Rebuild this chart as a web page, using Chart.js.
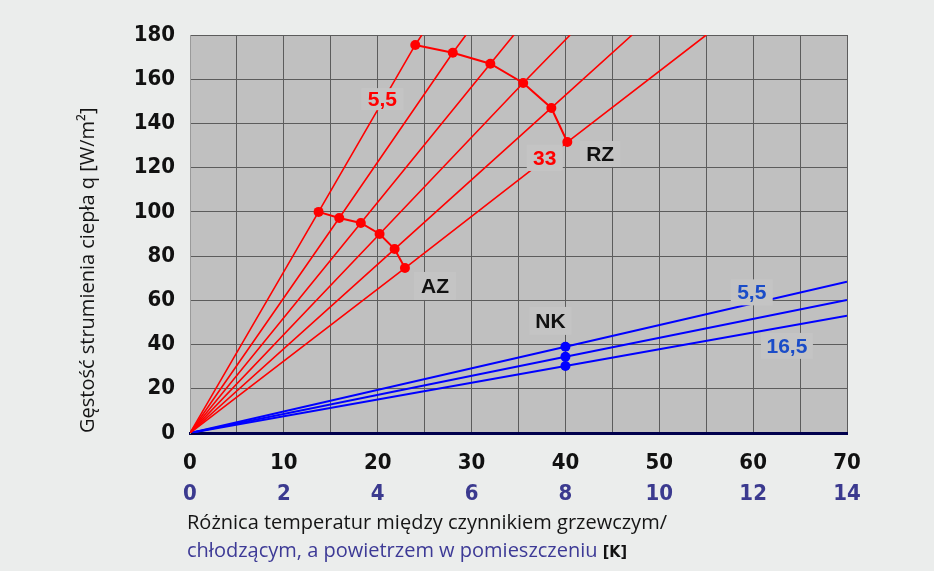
<!DOCTYPE html>
<html>
<head>
<meta charset="utf-8">
<script src="https://cdn.jsdelivr.net/npm/chart.js@4"></script>
<style>
    html, body { margin: 0; padding: 0; background: #ebedec; }
    #wrap { width: 934px; height: 571px; position: relative; }
</style>
</head>
<body>
<div id="wrap"><canvas id="chart" width="934" height="571"></canvas></div>
<script>
// red lines: x where each line leaves the top edge (q = 180)
const redTopX = [24.7, 29.4, 34.5, 40.5, 47.1, 55.0];
// AZ points (lower red polyline)
const azX = [13.7, 15.9, 18.2, 20.2, 21.8, 22.9];
const azY = [100.0, 97.2, 95.0, 90.0, 83.2, 74.6];
// RZ points (upper red polyline)
const rzX = [24.0, 28.0, 32.0, 35.5, 38.5, 40.2];
const rzY = [175.5, 172.0, 167.0, 158.3, 147.0, 131.6];
// blue lines (NK), value at 40 K and at the right edge (70 K)
const nkX = 40;
const nkY = [39.0, 34.5, 30.3];
const blueEndX = 70;
const blueEndY = [68.4, 60.2, 53.0];

// tick labels
const xLabels = [0, 10, 20, 30, 40, 50, 60, 70];
const x2Labels = [0, 2, 4, 6, 8, 10, 12, 14];
const yLabels = [0, 20, 40, 60, 80, 100, 120, 140, 160, 180];

const RED = '#ff0000';
const BLUE = '#0000ff';
const tickFont = { family: '"Liberation Sans Narrow", "DejaVu Sans Condensed", sans-serif', size: 22, weight: 'bold' };

// notes drawn on the plot (data coords)
const notes = [
    { text: '5,5', x: 20.5, y: 151, color: RED, w: 42, h: 22 },
    { text: '33', x: 37.8, y: 124.4, color: RED, w: 36, h: 26 },
    { text: 'RZ', x: 43.7, y: 126.2, color: '#111', w: 40, h: 26 },
    { text: 'AZ', x: 26.1, y: 66.5, color: '#111', w: 42, h: 28 },
    { text: 'NK', x: 38.4, y: 50.7, color: '#111', w: 42, h: 28 },
    { text: '5,5', x: 59.85, y: 63.6, color: '#1a4cc8', w: 42, h: 26 },
    { text: '16,5', x: 63.6, y: 39.4, color: '#1a4cc8', w: 52, h: 26 }
];

const datasets = [];

redTopX.forEach((tx, i) => {
    datasets.push({
        data: [{ x: 0, y: 0 }, { x: azX[i], y: azY[i] }, { x: rzX[i], y: rzY[i] }, { x: tx, y: 180 }],
        borderColor: RED,
        borderWidth: 1.6,
        pointRadius: 0
    });
});

datasets.push({
    data: azX.map((x, i) => ({ x, y: azY[i] })),
    borderColor: RED,
    borderWidth: 2,
    pointRadius: 5,
    pointBackgroundColor: RED,
    pointBorderWidth: 0
});
datasets.push({
    data: rzX.map((x, i) => ({ x, y: rzY[i] })),
    borderColor: RED,
    borderWidth: 2,
    pointRadius: 5,
    pointBackgroundColor: RED,
    pointBorderWidth: 0
});

nkY.forEach((y, i) => {
    datasets.push({
        data: [{ x: 0, y: 0 }, { x: nkX, y }, { x: blueEndX, y: blueEndY[i] }],
        borderColor: BLUE,
        borderWidth: 2,
        pointRadius: [0, 5, 0],
        pointBackgroundColor: BLUE,
        pointBorderWidth: 0
    });
});

// grey plot background
const plotBg = {
    id: 'plotBg',
    beforeDraw(chart) {
        const { ctx, chartArea: a } = chart;
        ctx.save();
        ctx.fillStyle = '#c0c0c0';
        ctx.fillRect(a.left, a.top, a.right - a.left, a.bottom - a.top);
        ctx.restore();
    }
};

// boxed labels on top of the lines
const noteLabels = {
    id: 'noteLabels',
    afterDatasetsDraw(chart) {
        const { ctx, scales: { x, y } } = chart;
        ctx.save();
        notes.forEach(n => {
            const px = x.getPixelForValue(n.x);
            const py = y.getPixelForValue(n.y);
            ctx.fillStyle = '#c4c4c4';
            ctx.fillRect(px - n.w / 2, py - n.h / 2, n.w, n.h);
            ctx.fillStyle = n.color;
            ctx.font = 'bold 21px "Liberation Sans", Arial, sans-serif';
            ctx.textAlign = 'center';
            ctx.textBaseline = 'middle';
            ctx.fillText(n.text, px, py + 1);
        });
        ctx.restore();
    }
};

// two-line x title with mixed colours
const xTitle = {
    id: 'xTitle',
    afterDraw(chart) {
        const { ctx } = chart;
        ctx.save();
        ctx.textAlign = 'left';
        ctx.textBaseline = 'alphabetic';
        ctx.font = '20px "Open Sans", sans-serif';
        ctx.fillStyle = '#151515';
        ctx.fillText('Różnica temperatur między czynnikiem grzewczym/', 187, 529);
        const line2 = 'chłodzącym, a powietrzem w pomieszczeniu';
        ctx.fillStyle = '#3d3a96';
        ctx.fillText(line2, 187, 557);
        const w = ctx.measureText(line2 + ' ').width;
        ctx.font = 'bold 16px "Liberation Sans Narrow", "DejaVu Sans Condensed", sans-serif';
        ctx.fillStyle = '#111';
        ctx.fillText('[K]', 187 + w, 557);
        ctx.restore();
    }
};

new Chart(document.getElementById('chart').getContext('2d'), {
    type: 'line',
    data: { datasets },
    options: {
        responsive: false,
        animation: false,
        layout: { padding: { left: 0, top: 35, right: 87, bottom: 0 } },
        plugins: { legend: { display: false }, tooltip: { enabled: false } },
        scales: {
            x: {
                type: 'linear',
                min: 0,
                max: 70,
                weight: 0,
                afterFit: s => { s.height = 45; },
                ticks: {
                    stepSize: 5,
                    padding: 17,
                    color: '#111',
                    font: tickFont,
                    maxRotation: 0,
                    callback: v => xLabels.includes(v) ? String(v) : ''
                },
                grid: { color: '#5c5c5c', lineWidth: 1, drawTicks: false },
                border: { color: '#00004d', width: 3 }
            },
            x2: {
                type: 'linear',
                position: 'bottom',
                min: 0,
                max: 14,
                weight: 1,
                afterFit: s => { s.height = 93; },
                ticks: {
                    stepSize: 2,
                    padding: 3,
                    color: '#3b3a8f',
                    font: tickFont,
                    maxRotation: 0,
                    callback: v => x2Labels.includes(v) ? String(v) : ''
                },
                grid: { display: false, drawTicks: false },
                border: { display: false }
            },
            y: {
                min: 0,
                max: 180,
                afterFit: s => { s.width = 190; },
                ticks: {
                    stepSize: 10,
                    padding: 15,
                    color: '#111',
                    font: tickFont,
                    callback: v => yLabels.includes(v) ? String(v) : ''
                },
                grid: { color: '#5c5c5c', lineWidth: 1, drawTicks: false },
                border: { color: '#9a9a9a', width: 1 },
                title: {
                    display: true,
                    text: 'Gęstość strumienia ciepła q [W/m²]',
                    align: 'start',
                    color: '#151515',
                    font: { family: '"Open Sans", sans-serif', size: 20 },
                    padding: { top: 76, bottom: 0 }
                }
            }
        }
    },
    plugins: [plotBg, noteLabels, xTitle]
});
</script>
</body>
</html>
